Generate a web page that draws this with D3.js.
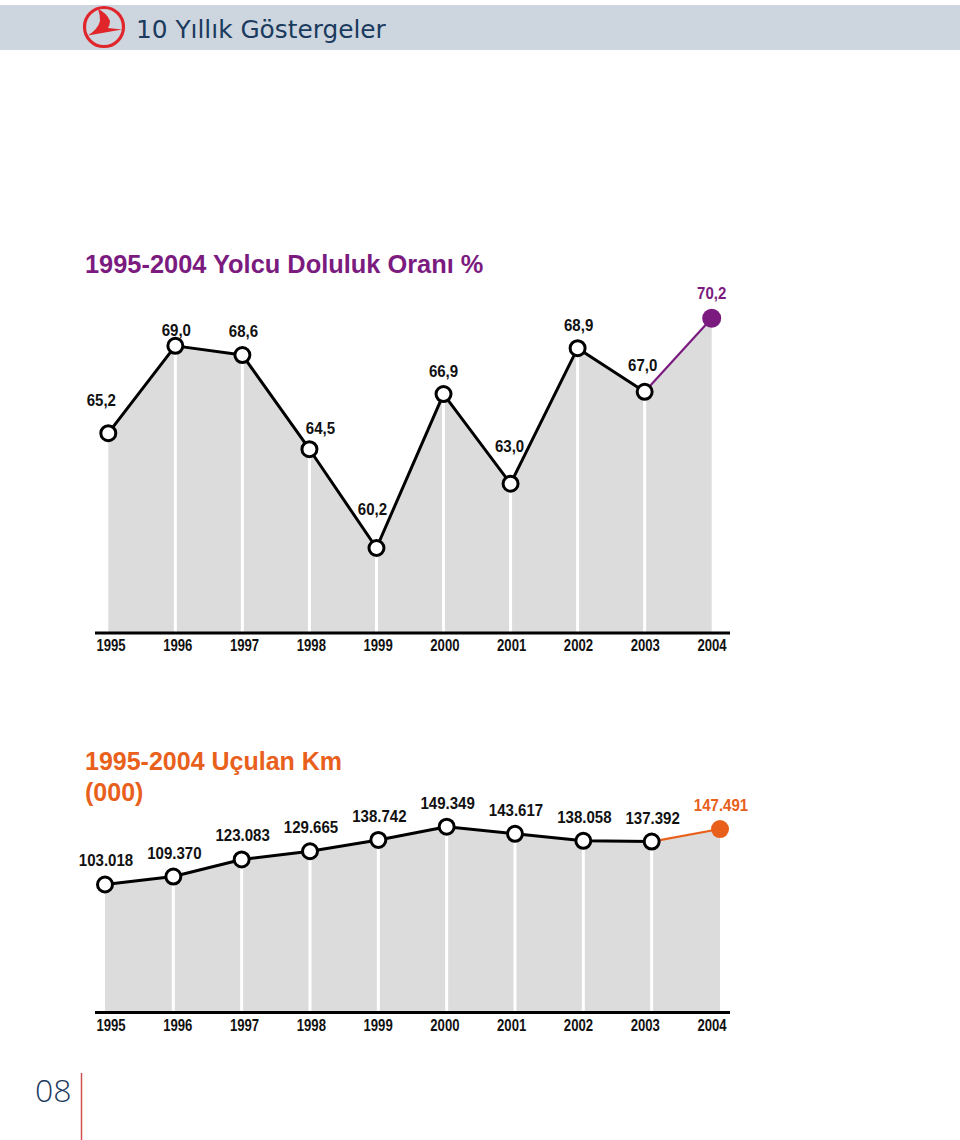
<!DOCTYPE html>
<html>
<head>
<meta charset="utf-8">
<script src="https://cdn.jsdelivr.net/npm/d3@7"></script>
<style>
  html, body { margin: 0; padding: 0; background: #ffffff; }
  svg { display: block; }
</style>
</head>
<body>
<script>
// ---------- DATA ----------
const years = ['1995','1996','1997','1998','1999','2000','2001','2002','2003','2004'];
const loadFactor = [65.2, 69.0, 68.6, 64.5, 60.2, 66.9, 63.0, 68.9, 67.0, 70.2];
const kmFlown = [103.018, 109.370, 123.083, 129.665, 138.742, 149.349, 143.617, 138.058, 137.392, 147.491];
const headerTitle = '10 Yıllık Göstergeler';
const loadTitle = '1995-2004 Yolcu Doluluk Oranı %';
const kmTitleLines = ['1995-2004 Uçulan Km', '(000)'];
const pageNumber = '08';

// label placement (layout only)
const topLabelDx = [-7, 1, 1, 11, -4, 0, -1, 1, -2, 0];
const topLabelDy = [-27, -10, -18, -15, -33, -17, -32, -17, -21, -19];

// ---------- STYLE ----------
const W = 960, H = 1140;
const navy = '#1a3a5e';
const purple = '#7b1b80';
const orange = '#e8601c';
const grayFill = '#dcdcdc';
const valueFont = '"Liberation Sans", Arial, sans-serif';
const yearFont = '"Liberation Sans", Arial, sans-serif';

const svg = d3.select('body').append('svg').attr('width', W).attr('height', H);

// ---------- HEADER ----------
svg.append('rect').attr('x', 0).attr('y', 5).attr('width', W).attr('height', 45).attr('fill', '#cdd6df');
const logo = svg.append('g');
logo.append('circle').attr('cx', 104).attr('cy', 27).attr('r', 19.5)
  .attr('fill', 'none').attr('stroke', '#e0262b').attr('stroke-width', 3.2);
logo.append('path')
  .attr('d', 'M98,9 Q107,13 110,21 Q110,25 108,28 L122,29.5 L88,35.5 Q98,29 100,21 Q100,14 98,9 Z')
  .attr('fill', '#e0262b');
svg.append('text').attr('x', 136).attr('y', 37.5)
  .attr('font-family', '"DejaVu Sans", sans-serif').attr('font-size', 24.8)
  .attr('fill', navy).text(headerTitle);

// ---------- CHART 1: load factor ----------
const x1 = d3.scalePoint().domain(years).range([108.3, 711.7]);
const xYears1 = d3.scalePoint().domain(years).range([111, 712]);
const y1 = d3.scaleLinear().domain([56.5, 70.2]).range([633, 318.3]);
const base1 = 633;

svg.append('text').attr('x', 85).attr('y', 273)
  .attr('font-family', valueFont).attr('font-weight', 'bold').attr('font-size', 25.4)
  .attr('fill', purple).text(loadTitle);

const d1 = years.map((yr, i) => ({ yr, v: loadFactor[i], i }));
const g1 = svg.append('g');
g1.append('path').datum(d1)
  .attr('d', d3.area().x(d => x1(d.yr)).y0(base1).y1(d => y1(d.v)))
  .attr('fill', grayFill);
g1.selectAll('line.sep').data(d1.slice(1, -1)).join('line').attr('class', 'sep')
  .attr('x1', d => x1(d.yr)).attr('x2', d => x1(d.yr))
  .attr('y1', d => y1(d.v)).attr('y2', base1)
  .attr('stroke', '#ffffff').attr('stroke-width', 3);
g1.append('path').datum(d1.slice(0, -1))
  .attr('d', d3.line().x(d => x1(d.yr)).y(d => y1(d.v)))
  .attr('fill', 'none').attr('stroke', '#000').attr('stroke-width', 3).attr('stroke-linejoin', 'round');
g1.append('path').datum(d1.slice(-2))
  .attr('d', d3.line().x(d => x1(d.yr)).y(d => y1(d.v)))
  .attr('fill', 'none').attr('stroke', purple).attr('stroke-width', 2.2);
g1.selectAll('circle.pt').data(d1.slice(0, -1)).join('circle').attr('class', 'pt')
  .attr('cx', d => x1(d.yr)).attr('cy', d => y1(d.v)).attr('r', 7.5)
  .attr('fill', '#fff').attr('stroke', '#000').attr('stroke-width', 3);
g1.selectAll('circle.last').data(d1.slice(-1)).join('circle').attr('class', 'last')
  .attr('cx', d => x1(d.yr)).attr('cy', d => y1(d.v)).attr('r', 9.5).attr('fill', purple);
const fmtComma = v => d3.format('.1f')(v).replace('.', ',');
g1.selectAll('text.val').data(d1).join('text').attr('class', 'val')
  .attr('transform', d => `translate(${x1(d.yr) + topLabelDx[d.i]},${y1(d.v) + topLabelDy[d.i]}) scale(0.94,1)`)
  .attr('text-anchor', 'middle').attr('font-family', valueFont).attr('font-weight', 'bold')
  .attr('font-size', 16).attr('fill', d => d.i === 9 ? purple : '#111').text(d => fmtComma(d.v));
g1.append('line').attr('x1', 95).attr('x2', 730).attr('y1', base1).attr('y2', base1)
  .attr('stroke', '#000').attr('stroke-width', 3);
g1.selectAll('text.yr').data(years).join('text').attr('class', 'yr')
  .attr('transform', d => `translate(${xYears1(d)},651) scale(0.82,1)`)
  .attr('text-anchor', 'middle')
  .attr('font-family', yearFont).attr('font-weight', 'bold').attr('font-size', 16)
  .attr('fill', '#111').text(d => d);

// ---------- CHART 2: km flown ----------
const x2 = d3.scalePoint().domain(years).range([105, 720]);
const xYears2 = d3.scalePoint().domain(years).range([111, 712]);
const y2 = d3.scaleLinear().domain([0, 149.349]).range([1013, 826.7]);
const base2 = 1012.5;

svg.append('text').attr('font-family', valueFont).attr('font-weight', 'bold').attr('font-size', 25)
  .attr('fill', orange)
  .selectAll('tspan').data(kmTitleLines).join('tspan')
  .attr('x', 85).attr('y', (d, i) => 769.5 + i * 31).text(d => d);

const d2 = years.map((yr, i) => ({ yr, v: kmFlown[i], i }));
const g2 = svg.append('g');
g2.append('path').datum(d2)
  .attr('d', d3.area().x(d => x2(d.yr)).y0(base2).y1(d => y2(d.v)))
  .attr('fill', grayFill);
g2.selectAll('line.sep').data(d2.slice(1, -1)).join('line').attr('class', 'sep')
  .attr('x1', d => x2(d.yr)).attr('x2', d => x2(d.yr))
  .attr('y1', d => y2(d.v)).attr('y2', base2)
  .attr('stroke', '#ffffff').attr('stroke-width', 3);
g2.append('path').datum(d2.slice(0, -1))
  .attr('d', d3.line().x(d => x2(d.yr)).y(d => y2(d.v)))
  .attr('fill', 'none').attr('stroke', '#000').attr('stroke-width', 3).attr('stroke-linejoin', 'round');
g2.append('path').datum(d2.slice(-2))
  .attr('d', d3.line().x(d => x2(d.yr)).y(d => y2(d.v)))
  .attr('fill', 'none').attr('stroke', orange).attr('stroke-width', 2.2);
g2.selectAll('circle.pt').data(d2.slice(0, -1)).join('circle').attr('class', 'pt')
  .attr('cx', d => x2(d.yr)).attr('cy', d => y2(d.v)).attr('r', 7.5)
  .attr('fill', '#fff').attr('stroke', '#000').attr('stroke-width', 3);
g2.selectAll('circle.last').data(d2.slice(-1)).join('circle').attr('class', 'last')
  .attr('cx', d => x2(d.yr)).attr('cy', d => y2(d.v)).attr('r', 9).attr('fill', orange);
const fmtKm = d3.format('.3f');
g2.selectAll('text.val').data(d2).join('text').attr('class', 'val')
  .attr('transform', d => `translate(${x2(d.yr) + 1},${y2(d.v) - 18}) scale(0.94,1)`)
  .attr('text-anchor', 'middle').attr('font-family', valueFont).attr('font-weight', 'bold')
  .attr('font-size', 16).attr('fill', d => d.i === 9 ? orange : '#111').text(d => fmtKm(d.v));
g2.append('line').attr('x1', 95).attr('x2', 730).attr('y1', base2).attr('y2', base2)
  .attr('stroke', '#000').attr('stroke-width', 3);
g2.selectAll('text.yr').data(years).join('text').attr('class', 'yr')
  .attr('transform', d => `translate(${xYears2(d)},1030.5) scale(0.82,1)`)
  .attr('text-anchor', 'middle')
  .attr('font-family', yearFont).attr('font-weight', 'bold').attr('font-size', 16)
  .attr('fill', '#111').text(d => d);

// ---------- FOOTER ----------
svg.append('text').attr('x', 35).attr('y', 1102)
  .attr('font-family', '"Open Sans", "Noto Sans", sans-serif').attr('font-weight', 300)
  .attr('font-size', 32).attr('fill', navy).text(pageNumber);
svg.append('line').attr('x1', 81.5).attr('x2', 81.5).attr('y1', 1073).attr('y2', 1140)
  .attr('stroke', '#d05050').attr('stroke-width', 1.5);
</script>
</body>
</html>
